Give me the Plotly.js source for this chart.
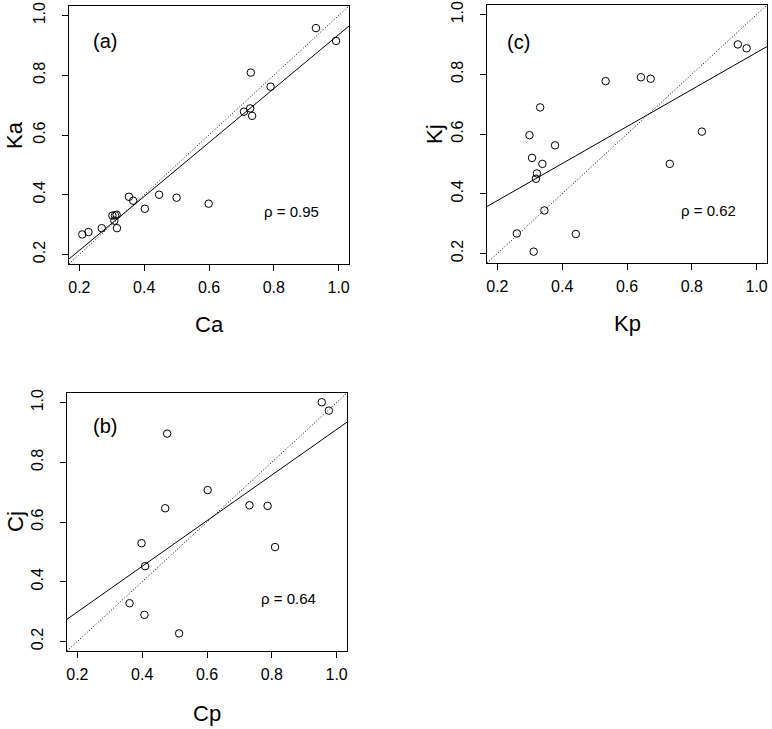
<!DOCTYPE html>
<html>
<head>
<meta charset="utf-8">
<script src="https://cdn.plot.ly/plotly-3.0.1.min.js"></script>
<style>html,body{margin:0;padding:0;background:#fff;}#chart{width:772px;height:729px;}</style>
</head>
<body>
<div id="chart"></div>
<script>
// ---- Data ----
// Panel (a): Ca vs Ka
const caX = [0.930, 0.992, 0.729, 0.790, 0.708, 0.727, 0.733, 0.353, 0.366, 0.446, 0.500, 0.599, 0.402, 0.302, 0.310, 0.315, 0.308, 0.316, 0.269, 0.209, 0.228];
const kaY = [0.958, 0.915, 0.809, 0.762, 0.678, 0.689, 0.664, 0.393, 0.380, 0.400, 0.390, 0.370, 0.353, 0.330, 0.331, 0.333, 0.313, 0.288, 0.288, 0.267, 0.275];
const fitA = [0.033, 0.903];   // intercept, slope
const rhoA = "0.95";

// Panel (c): Kp vs Kj
const kpX = [0.942, 0.969, 0.534, 0.643, 0.673, 0.332, 0.299, 0.378, 0.307, 0.339, 0.322, 0.319, 0.831, 0.732, 0.345, 0.260, 0.442, 0.312];
const kjY = [0.900, 0.887, 0.777, 0.790, 0.785, 0.689, 0.596, 0.562, 0.520, 0.500, 0.468, 0.450, 0.608, 0.500, 0.344, 0.267, 0.265, 0.206];
const fitC = [0.253, 0.620];
const rhoC = "0.62";

// Panel (b): Cp vs Cj
const cpX = [0.954, 0.976, 0.477, 0.602, 0.471, 0.731, 0.787, 0.810, 0.398, 0.409, 0.361, 0.407, 0.514];
const cjY = [1.001, 0.973, 0.896, 0.707, 0.646, 0.656, 0.654, 0.516, 0.529, 0.452, 0.328, 0.289, 0.227];
const fitB = [0.146, 0.764];
const rhoB = "0.64";

const tickVals = [0.2, 0.4, 0.6, 0.8, 1.0];
const tickText = ["0.2", "0.4", "0.6", "0.8", "1.0"];
const axRange = [0.168, 1.032];

// ---- Build ----
const W = 772, H = 729;
const FONT = "Liberation Sans, Arial, sans-serif";

function panelTraces(xs, ys, fit, xa, ya) {
  const lo = axRange[0], hi = axRange[1];
  return [
    {x: [lo, hi], y: [lo, hi], mode: "lines", xaxis: xa, yaxis: ya,
     line: {color: "#000", width: 1, dash: "1px,2px"}, hoverinfo: "skip"},
    {x: [lo, hi], y: [fit[0] + fit[1] * lo, fit[0] + fit[1] * hi], mode: "lines", xaxis: xa, yaxis: ya,
     line: {color: "#000", width: 1}, hoverinfo: "skip"},
    {x: xs, y: ys, mode: "markers", xaxis: xa, yaxis: ya,
     marker: {symbol: "circle-open", size: 7.5, color: "#000", line: {width: 1, color: "#000"}}}
  ];
}

const traces = [].concat(
  panelTraces(caX, kaY, fitA, "x", "y"),
  panelTraces(kpX, kjY, fitC, "x2", "y2"),
  panelTraces(cpX, cjY, fitB, "x3", "y3")
);

function xAxis(l, r, anchor) {
  return {domain: [l / W, r / W], range: axRange, anchor: anchor,
    tickmode: "array", tickvals: tickVals, ticktext: tickText,
    ticks: "outside", ticklen: 6, tickcolor: "#000", tickwidth: 1,
    ticklabelstandoff: 3,
    showline: true, mirror: true, linecolor: "#000", linewidth: 1,
    showgrid: false, zeroline: false, fixedrange: true,
    tickfont: {family: FONT, size: 16, color: "#000"}};
}
function yAxis(t, b, anchor) {
  return {domain: [1 - b / H, 1 - t / H], range: axRange, anchor: anchor,
    tickmode: "array", tickvals: tickVals, ticktext: tickText, tickangle: -90,
    ticks: "outside", ticklen: 6, tickcolor: "#000", tickwidth: 1,
    ticklabelstandoff: 11,
    showline: true, mirror: true, linecolor: "#000", linewidth: 1,
    showgrid: false, zeroline: false, fixedrange: true,
    tickfont: {family: FONT, size: 16, color: "#000"}};
}

function txt(x, y, text, size, angle) {
  return {xref: "paper", yref: "paper", x: x / W, y: 1 - y / H, text: text,
    showarrow: false, xanchor: "center", yanchor: "middle", textangle: angle || 0,
    font: {family: FONT, size: size, color: "#000"}};
}

const layout = {
  width: W, height: H, margin: {l: 0, r: 0, t: 0, b: 0},
  paper_bgcolor: "#fff", plot_bgcolor: "#fff", showlegend: false,
  xaxis: xAxis(69, 349, "y"), yaxis: yAxis(6, 264, "x"),
  xaxis2: xAxis(487, 767, "y2"), yaxis2: yAxis(5, 263, "x2"),
  xaxis3: xAxis(67, 347, "y3"), yaxis3: yAxis(393, 651, "x3"),
  annotations: [
    txt(105, 41, "(a)", 20), txt(291, 212, "ρ = " + rhoA, 15),
    txt(518, 42, "(c)", 20), txt(708, 211, "ρ = " + rhoC, 15),
    txt(105, 426, "(b)", 20), txt(288, 598, "ρ = " + rhoB, 15),
    txt(209, 324, "Ca", 22), txt(15, 135, "Ka", 22, -90),
    txt(627, 323, "Kp", 22), txt(435, 134, "Kj", 22, -90),
    txt(207, 713, "Cp", 22), txt(15, 522, "Cj", 22, -90)
  ]
};

Plotly.newPlot("chart", traces, layout, {displayModeBar: false, staticPlot: true});
</script>
</body>
</html>
